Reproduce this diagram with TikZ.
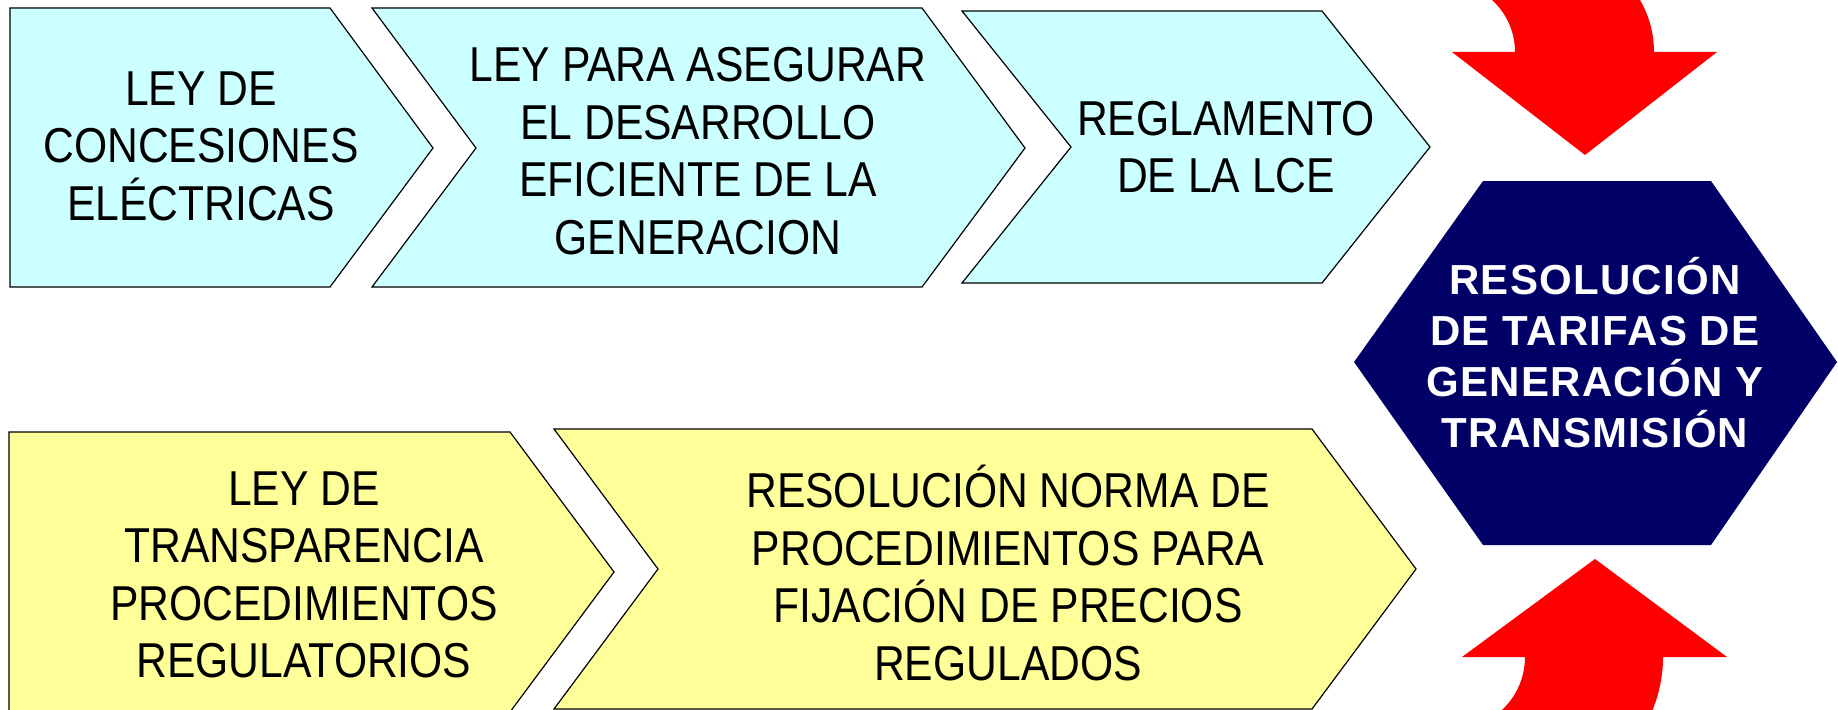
\documentclass[tikz,border=0pt]{standalone}
\usepackage{fontspec}
\newfontfamily\boxfont{Liberation Sans}[FakeStretch=0.87]
\newfontfamily\hexfont{Liberation Sans}[LetterSpace=3]
\definecolor{cyanbox}{HTML}{CCFFFF}
\definecolor{yellowbox}{HTML}{FFFF99}
\definecolor{navyhex}{HTML}{000066}
\definecolor{redarrow}{HTML}{FF0000}
\begin{document}
\begin{tikzpicture}[x=1pt,y=-1pt,
  cyanshape/.style={fill=cyanbox, draw=black, line width=1.2pt, line join=miter},
  yellowshape/.style={fill=yellowbox, draw=black, line width=1.2pt, line join=miter},
  hexshape/.style={fill=navyhex},
  curvedarrow/.style={fill=redarrow},
  lawtext/.style={font=\boxfont\fontsize{49}{57.5}\selectfont, align=center, text=black, inner sep=0pt},
  hextext/.style={font=\hexfont\bfseries\fontsize{42}{51}\selectfont, align=center, text=white, inner sep=0pt}]
\useasboundingbox (0,0) rectangle (1838,709);
\clip (0,0) rectangle (1838,709);

% top row chevrons
\path[cyanshape] (10,8) -- (330,8) -- (433,148) -- (330,287) -- (10,287) -- cycle;
\path[cyanshape] (372,8) -- (922,8) -- (1025,148) -- (922,287) -- (372,287) -- (476,148) -- cycle;
\path[cyanshape] (962,11) -- (1322,11) -- (1430,147) -- (1322,283) -- (962,283) -- (1071,147) -- cycle;

% bottom row chevrons
\path[yellowshape] (9,432) -- (510,432) -- (614,572) -- (510,712) -- (9,712) -- cycle;
\path[yellowshape] (554,429) -- (1312,429) -- (1416,569) -- (1312,709) -- (554,709) -- (658,569) -- cycle;

% hexagon
\path[hexshape] (1483,181) -- (1711,181) -- (1837,362) -- (1711,545) -- (1483,545) -- (1354,362) -- cycle;

% red curved arrows
\path[curvedarrow] (1585,155) -- (1717,52) -- (1654,52)
  .. controls (1654,29.6) and (1646.8,7.9) .. (1633.4,-10) -- (1477.8,-10)
  .. controls (1500.7,2.2) and (1515,26) .. (1515,52) -- (1452,52) -- cycle;
\path[curvedarrow] (1595,559) -- (1727,657) -- (1663,657)
  .. controls (1663,678.9) and (1657.8,700.4) .. (1648,720) -- (1488.4,720)
  .. controls (1511,707.1) and (1525,683) .. (1525,657) -- (1462,657) -- cycle;

% texts
\node[lawtext] (lce) at (201,146) {LEY DE\\CONCESIONES\\ELÉCTRICAS};
\node[lawtext] (gen) at (698,151) {LEY PARA ASEGURAR\\EL DESARROLLO\\EFICIENTE DE LA\\GENERACION};
\node[lawtext] (reg) at (1226,147) {REGLAMENTO\\DE LA LCE};
\node[lawtext] (transp) at (304,575) {LEY DE\\TRANSPARENCIA\\PROCEDIMIENTOS\\REGULATORIOS};
\node[lawtext] (norma) at (1008,573) {RESOLUCIÓN NORMA DE\\PROCEDIMIENTOS PARA\\FIJACIÓN DE PRECIOS\\REGULADOS};
\node[hextext] (tarifas) at (1595,353) {RESOLUCIÓN\\DE TARIFAS DE\\GENERACIÓN Y\\TRANSMISIÓN};
\end{tikzpicture}
\end{document}
